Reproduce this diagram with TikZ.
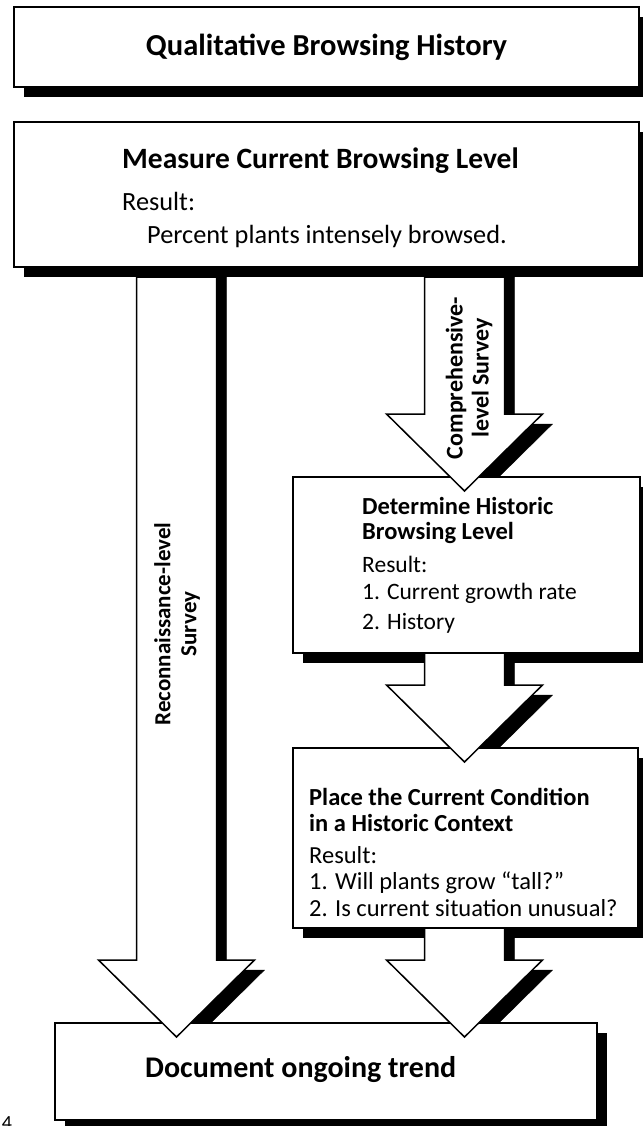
\documentclass[tikz,border=0pt]{standalone}
\usepackage{fontspec}
\setmainfont{Carlito}
\usetikzlibrary{calc,shadows,backgrounds}

% block arrow: style, from box, to box, axis coordinate, start offset
\newcommand{\blockarrow}[5]{%
  \draw[#1] ($(#2.south -| #4)+(-40,#5)$) -- ($(#3.north -| #4)+(-40,-63)$)
    -- ($(#3.north -| #4)+(-78,-63)$) -- ($(#3.north -| #4)+(0,14)$)
    -- ($(#3.north -| #4)+(78,-63)$) -- ($(#3.north -| #4)+(40,-63)$)
    -- ($(#2.south -| #4)+(40,#5)$) -- cycle;}

\begin{document}
\begin{tikzpicture}[x=1pt, y=-1pt,
    box/.style={draw=black, line width=1.5pt, fill=white, inner sep=0pt, outer sep=0pt, anchor=north west,
      drop shadow={shadow xshift=10pt, shadow yshift=-10pt, fill=black, opacity=1}},
    bigarrow/.style={draw=black, line width=1.5pt, fill=white, line join=miter},
    arrowshadow/.style={fill=black, transform canvas={shift={(10pt,-10pt)}}},
    headtxt/.style={font=\fontsize{#1}{#1}\selectfont\bfseries, anchor=base west, inner sep=0pt},
    bodytxt/.style={font=\fontsize{#1}{#1}\selectfont, anchor=base west, inner sep=0pt},
    survey/.style={font=\fontsize{#1}{26}\selectfont\bfseries, align=center, rotate=90, inner sep=0pt},
    ]
    \useasboundingbox (0,0) rectangle (642,1126);
    % boxes
    \node[box, minimum width=625pt, minimum height=80pt, font=\fontsize{30.5}{32}\selectfont\bfseries] (qual) at (14,7) {Qualitative Browsing History};
    \node[box, minimum width=625pt, minimum height=145pt] (meas) at (14,122) {};
    \node[box, minimum width=347pt, minimum height=176pt] (hist) at (293,477) {};
    \node[box, minimum width=345pt, minimum height=180pt] (cond) at (293,748) {};
    \node[box, minimum width=542pt, minimum height=97pt] (trend) at (55,1023) {};
    \coordinate (reconaxis) at (176.5,0);
    \coordinate (compaxis) at (464.5,0);
    % arrow shadows go under the boxes
    \begin{pgfonlayer}{background}
    \blockarrow{arrowshadow}{meas}{trend}{reconaxis}{0}
    \blockarrow{arrowshadow}{meas}{hist}{compaxis}{0}
    \blockarrow{arrowshadow}{hist}{cond}{compaxis}{0}
    \blockarrow{arrowshadow}{cond}{trend}{compaxis}{0}
    \end{pgfonlayer}
    \blockarrow{bigarrow}{meas}{trend}{reconaxis}{10}
    \blockarrow{bigarrow}{meas}{hist}{compaxis}{10}
    \blockarrow{bigarrow}{hist}{cond}{compaxis}{0}
    \blockarrow{bigarrow}{cond}{trend}{compaxis}{0}
    \node[survey=23] (reconlabel) at (177,624) {Reconnaissance-level\\Survey};
    \node[survey=24] (complabel) at (469,378) {Comprehensive-\\level Survey};
    % texts
    \node[headtxt=29.5] (meas-head) at (122,169) {Measure Current Browsing Level};
    \node[bodytxt=26.3] (meas-res) at (122,211) {Result:};
    \node[bodytxt=26.3] (meas-pct) at (147,243) {Percent plants intensely browsed.};
    \node[headtxt=24.5] (hist-head1) at (362,514) {Determine Historic};
    \node[headtxt=24.5] (hist-head2) at (362,539) {Browsing Level};
    \foreach \txt/\yy [count=\i] in {Result:/572, 1. Current growth rate/599, 2. History/629}
      \node[bodytxt=23.5] (hist-res\i) at (362,\yy) {\txt};
    \node[headtxt=24.5] (cond-head1) at (309,805) {Place the Current Condition};
    \node[headtxt=24.5] (cond-head2) at (309,831) {in a Historic Context};
    \foreach \txt/\yy [count=\i] in {Result:/863, 1. Will plants grow ``tall?''/889, 2. Is current situation unusual?/916}
      \node[bodytxt=24.5] (cond-res\i) at (309,\yy) {\txt};
    \node[headtxt=30] (trend-txt) at (145,1077) {Document ongoing trend};
    \node[font=\fontsize{20}{20}\selectfont, anchor=north, inner sep=0pt] (pagenum) at (7,1116) {4};
\end{tikzpicture}
\end{document}
